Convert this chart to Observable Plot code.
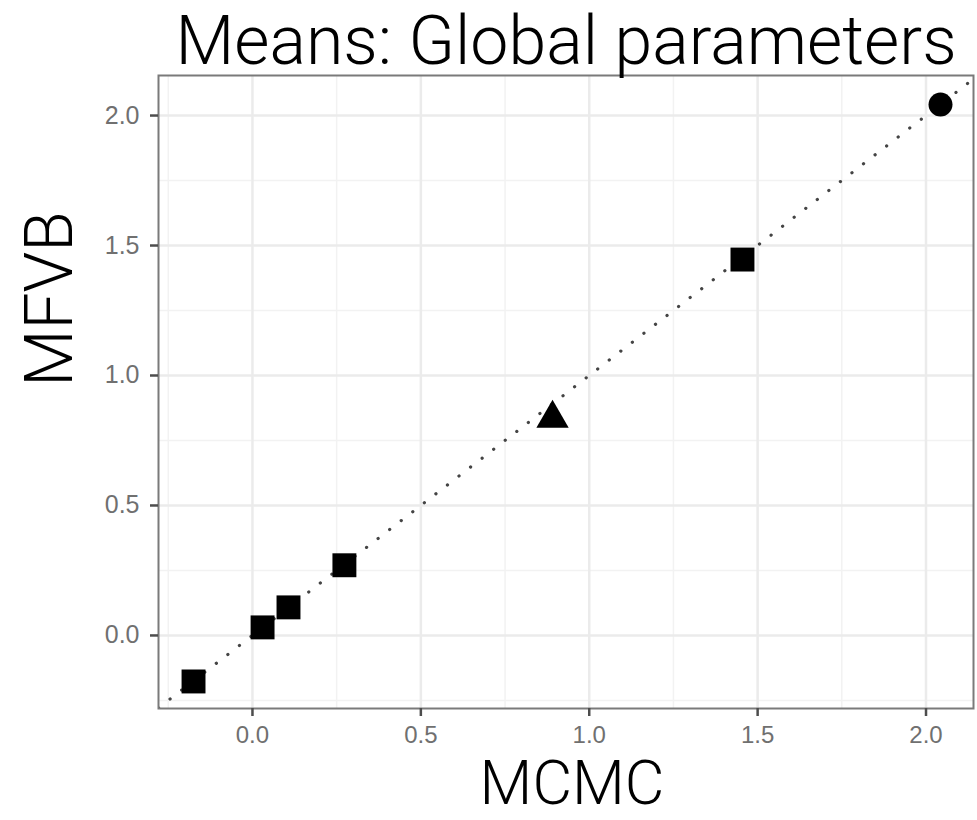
<!DOCTYPE html>
<html>
<head>
<meta charset="utf-8">
<script src="https://cdn.jsdelivr.net/npm/d3@7"></script>
<script src="https://cdn.jsdelivr.net/npm/@observablehq/plot@0.6"></script>
<style>
  html, body { margin: 0; padding: 0; background: #fff; }
  #chart svg { display: block; }
</style>
</head>
<body>
<div id="chart"></div>
<script>
// Data: MCMC vs MFVB means for global parameters
const mcmc  = [-0.175, 0.03, 0.107, 0.273, 0.891, 1.455, 2.043];
const mfvb  = [-0.177, 0.031, 0.108, 0.27, 0.835, 1.446, 2.042];
const shape = ["square", "square", "square", "square", "triangle", "square", "circle"];
const majorTicks = [0, 0.5, 1.0, 1.5, 2.0];
const minorTicks = [-0.25, 0.25, 0.75, 1.25, 1.75];
const xDomain = [-0.279, 2.141];
const yDomain = [-0.281, 2.154];
const titleText = "Means: Global parameters";
const xLabel = "MCMC";
const yLabel = "MFVB";

const pts = mcmc.map((x, i) => ({x, y: mfvb[i], shape: shape[i]}));
const diag = [xDomain[0], Math.max(xDomain[1], yDomain[1])].map(v => ({x: v, y: v}));

const bigFont = "Roboto, 'Liberation Sans', sans-serif";
const fmt = d3.format(".1f");

const chart = Plot.plot({
  width: 977,
  height: 820,
  marginTop: 75,
  marginLeft: 158,
  marginRight: 4,
  marginBottom: 112,
  style: {fontFamily: "'Liberation Sans', Arial, sans-serif", background: "#fff"},
  x: {domain: xDomain},
  y: {domain: yDomain},
  marks: [
    // minor grid
    Plot.ruleX(minorTicks, {stroke: "#f2f2f2", strokeWidth: 1.5}),
    Plot.ruleY(minorTicks, {stroke: "#f2f2f2", strokeWidth: 1.5}),
    // major grid
    Plot.ruleX(majorTicks, {stroke: "#ebebeb", strokeWidth: 2.5}),
    Plot.ruleY(majorTicks, {stroke: "#ebebeb", strokeWidth: 2.5}),
    // identity line
    Plot.line(diag, {x: "x", y: "y", stroke: "#444", strokeWidth: 3.2, strokeDasharray: "0.1,14.5", strokeLinecap: "round", clip: true}),
    // points
    Plot.dot(pts.filter(d => d.shape === "square"), {x: "x", y: "y", symbol: "square", r: 13.5, fill: "#000", stroke: "none"}),
    Plot.dot(pts.filter(d => d.shape === "triangle"), {x: "x", y: "y", symbol: "triangle", r: 12, fill: "#000", stroke: "none"}),
    Plot.dot(pts.filter(d => d.shape === "circle"), {x: "x", y: "y", symbol: "circle", r: 12, fill: "#000", stroke: "none"}),
    // frame
    Plot.frame({stroke: "#7a7a7a", strokeWidth: 2}),
    // axes
    Plot.axisX(majorTicks, {tickSize: 8, tickPadding: 9, tickFormat: fmt, fontSize: 24, color: "#707070", stroke: "#4d4d4d", strokeWidth: 2.5, label: null}),
    Plot.axisY(majorTicks, {tickSize: 8, tickPadding: 11, tickFormat: fmt, fontSize: 25, color: "#707070", stroke: "#4d4d4d", strokeWidth: 2.5, label: null}),
    // title and axis labels
    Plot.text([titleText], {frameAnchor: "top", text: d => d, textAnchor: "middle", lineAnchor: "bottom", dy: -12, fontSize: 68, fontWeight: 300, fontFamily: bigFont, fill: "#000"}),
    Plot.text([xLabel], {frameAnchor: "bottom", text: d => d, textAnchor: "middle", lineAnchor: "bottom", dx: 6, dy: 95, fontSize: 61, fontWeight: 300, fontFamily: bigFont, fill: "#000"}),
    Plot.text([yLabel], {frameAnchor: "left", text: d => d, textAnchor: "middle", lineAnchor: "middle", rotate: -90, dx: -108, dy: -93, fontSize: 66, fontWeight: 300, fontFamily: bigFont, fill: "#000"})
  ]
});
document.getElementById("chart").appendChild(chart);
</script>
</body>
</html>
